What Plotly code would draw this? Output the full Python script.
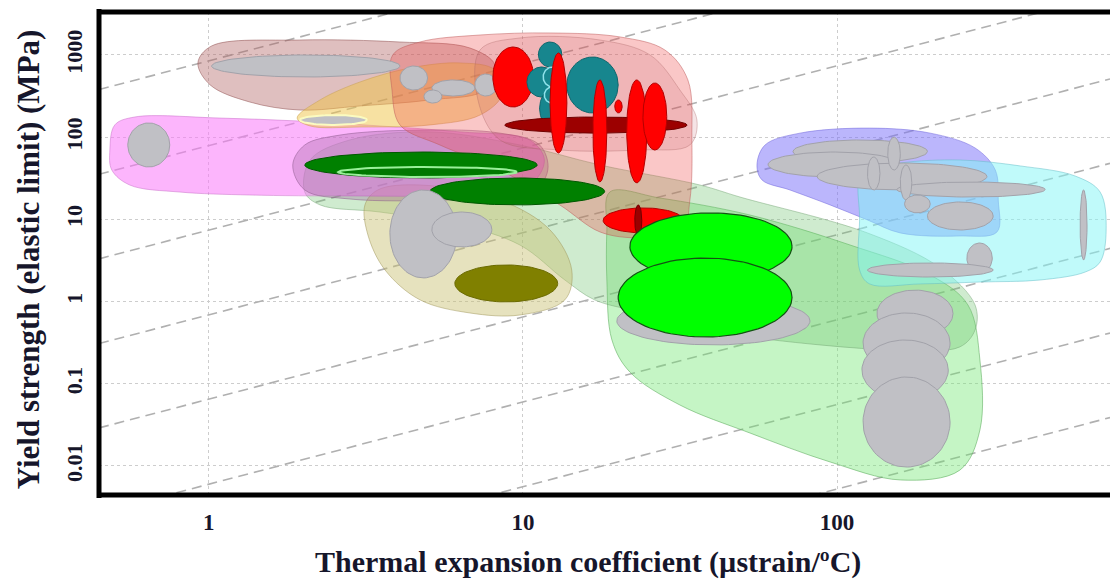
import numpy as np
import plotly.graph_objects as go

# ---------------- data ----------------
tick_x = [1, 10, 100]
tick_x_text = ["1", "10", "100"]
tick_y = [0.01, 0.1, 1, 10, 100, 1000]
tick_y_text = ["0.01", "0.1", "1", "10", "100", "1000"]

# guide lines: yield strength / expansion coefficient = constant (MPa per ustrain/C)
guide_ratio = [9100, 850, 79, 7.4, 0.69, 0.065, 0.006, 0.00056, 0.0000525]

# material bubbles: property ranges
bub_kind = ["gray", "gray", "gray_yl", "gray", "gray", "gray", "gray",
            "red", "teal", "teal", "teal", "teal", "teal_lt", "teal_lt",
            "darkred", "red", "red", "red", "red", "red", "red", "darkred",
            "dkgreen", "dkgreen_in", "dkgreen", "gray", "gray", "olive",
            "gray", "bgreen", "bgreen",
            "gray", "gray", "gray", "gray",
            "gray", "gray", "gray", "gray", "gray", "gray", "gray", "gray", "gray",
            "gray", "gray", "gray"]
bub_x_lo = [1.02, 0.552, 1.95, 4.06, 5.13, 7.03, 4.84,
            8.02, 13.8, 11.2, 10.3, 11.3, 11.6, 11.7,
            8.76, 12.2, 19.6, 16.7, 21.4, 24.1, 18.0, 22.7,
            2.02, 2.58, 5.06, 3.77, 5.13, 6.07,
            19.9, 21.9, 20.1,
            134, 121, 120, 121,
            72.4, 60.3, 86.4, 155, 194, 145, 159, 125, 164,
            594, 259, 125]
bub_x_hi = [4.06, 0.751, 3.19, 4.97, 7.03, 8.26, 5.52,
            10.8, 20.1, 13.3, 12.8, 13.4, 13.3, 13.1,
            33.3, 13.8, 20.7, 18.5, 24.8, 28.7, 32.4, 23.9,
            11.1, 9.57, 18.2, 6.16, 7.96, 12.9,
            82.0, 71.9, 71.9,
            234, 229, 226, 229,
            194, 159, 300, 460, 314, 159, 173, 137, 198,
            625, 312, 314]
bub_y_lo = [540, 43.4, 141, 375, 317, 317, 260,
            233, 197, 714, 308, 133, 408, 260,
            112, 64.2, 197, 28.5, 27.8, 69.9, 6.84, 6.28,
            31.9, 32.8, 15.0, 1.94, 4.62, 0.99,
            0.297, 1.83, 0.371,
            0.371, 0.135, 0.0635, 0.0097,
            48.5, 32.8, 22.8, 18.7, 7.43, 39.9, 17.2, 22.8, 12.0,
            3.21, 2.23, 1.99]
bub_y_hi = [1000, 149, 186, 735, 497, 587, 375,
            1251, 945, 1439, 714, 375, 714, 408,
            176, 1058, 284, 497, 497, 456, 13.8, 15.0,
            66.0, 43.4, 31.9, 22.8, 12.3, 2.79,
            1.14, 12.0, 3.39,
            1.38, 0.727, 0.341, 0.121,
            92.5, 66.0, 48.5, 28.5, 16.3, 100, 45.9, 57.4, 19.8,
            22.8, 5.16, 2.95]

# material-family envelopes (outline points, data units)
env_kind = ["foam", "band", "khaki", "magenta", "purple", "brown",
            "yellow", "red", "redd", "lavender", "cyan"]
env_x = [
    [18.9, 27.3, 52.8, 110, 198, 261, 285, 285, 246, 159, 95.0, 52.8, 31.6, 21.9, 19.2, 18.5, 18.5],
    [2.02, 2.10, 2.81, 5.06, 9.78, 17.6, 36.6, 49.1, 125, 213, 275, 275, 246, 159, 88.3, 42.4, 23.6, 16.9, 13.6, 9.78, 6.30, 3.50, 2.26],
    [3.14, 3.45, 4.70, 8.45, 12.2, 14.3, 13.6, 9.78, 6.78, 4.70, 3.64, 3.21],
    [0.484, 0.502, 0.581, 1.08, 1.95, 3.50, 6.30, 10.5, 11.7, 10.5, 5.86, 2.81, 1.35, 0.809, 0.560, 0.491],
    [1.85, 2.02, 2.61, 4.70, 8.45, 11.3, 12.0, 10.5, 5.86, 2.81, 2.02],
    [0.923, 1.02, 1.95, 4.06, 6.78, 8.14, 7.57, 5.06, 3.03, 1.95, 1.35, 1.01],
    [1.91, 2.26, 3.03, 4.37, 6.30, 8.14, 8.57, 7.30, 5.06, 3.03, 2.10],
    [3.85, 4.70, 7.30, 12.2, 20.4, 28.3, 33.5, 34.5, 34.0, 32.0, 23.6, 17.6, 13.1, 8.45, 5.44, 4.06, 3.83],
    [7.30, 9.78, 17.6, 25.4, 31.6, 35.8, 34.0, 23.6, 13.1, 8.45, 7.19],
    [55.6, 59.0, 76.2, 127, 198, 275, 319, 326, 323, 246, 159, 125, 95.0, 70.8, 57.7],
    [120, 159, 246, 383, 573, 688, 719, 688, 617, 443, 285, 184, 127, 118, 118],
]
env_y = [
    [21.5, 18.2, 11.3, 4.88, 2.11, 0.91, 0.195, 0.0274, 0.0089, 0.00676, 0.0112, 0.0252, 0.0552, 0.139, 0.341, 1.83, 7.43],
    [21.5, 52.8, 92.5, 116, 80.4, 45.9, 26.2, 18.7, 6.84, 2.57, 0.91, 0.451, 0.281, 0.258, 0.297, 0.426, 0.747, 1.05, 1.83, 4.88, 8.55, 12.3, 15.0],
    [15.0, 22.8, 26.2, 17.2, 7.43, 2.42, 1.05, 0.687, 0.727, 1.05, 2.42, 6.46],
    [69.9, 141, 176, 171, 157, 137, 116, 92.5, 52.8, 26.2, 19.8, 19.3, 19.8, 21.5, 26.2, 39.9],
    [45.9, 80.4, 106, 122, 112, 80.4, 39.9, 19.8, 17.2, 17.7, 22.8],
    [800, 1286, 1521, 1439, 1216, 755, 375, 284, 240, 214, 268, 432],
    [171, 284, 470, 695, 800, 657, 326, 186, 141, 133, 137],
    [1000, 1439, 1750, 1853, 1656, 1151, 497, 92.5, 17.2, 6.84, 5.94, 7.03, 15.0, 39.9, 80.4, 141, 375],
    [1151, 1611, 1521, 1000, 375, 162, 80.4, 69.9, 69.9, 92.5, 284],
    [45.9, 80.4, 112, 129, 112, 74.0, 39.9, 17.2, 7.03, 6.28, 6.84, 9.84, 15.0, 22.8, 30.2],
    [37.8, 48.5, 52.8, 44.7, 33.7, 21.5, 7.43, 3.03, 2.29, 1.83, 1.73, 1.64, 1.64, 2.42, 9.84],
]

# ---------------- styles ----------------
bub_style = {
    "gray": ("#c0c0c5", "#a2a2aa", 1),
    "gray_yl": ("#c0c0c5", "#fbfbc0", 2),
    "red": ("#ff0000", "#b40000", 1),
    "darkred": ("#9c0000", "#700000", 1),
    "teal": ("#17868e", "#0d666c", 1),
    "teal_lt": ("#17868e", "#8fe2ea", 1.5),
    "dkgreen": ("#008000", "#005800", 1),
    "dkgreen_in": ("#007800", "#9af09a", 2),
    "olive": ("#808000", "#6a6a00", 1),
    "bgreen": ("#00ff00", "#145214", 1.2),
}
env_style = {
    "foam": ("rgba(110,230,110,0.40)", "rgba(90,170,90,0.55)"),
    "band": ("rgba(110,195,110,0.33)", "rgba(110,160,110,0.45)"),
    "khaki": ("rgba(200,190,110,0.45)", "rgba(160,150,90,0.5)"),
    "magenta": ("rgba(250,120,250,0.55)", "rgba(200,110,200,0.5)"),
    "purple": ("rgba(150,90,150,0.30)", "rgba(140,90,140,0.5)"),
    "brown": ("rgba(175,95,95,0.40)", "rgba(150,90,90,0.55)"),
    "yellow": ("rgba(240,195,70,0.50)", "rgba(200,160,80,0.5)"),
    "red": ("rgba(240,70,70,0.30)", "rgba(190,90,90,0.5)"),
    "redd": ("rgba(190,90,100,0.16)", "rgba(170,100,100,0.35)"),
    "lavender": ("rgba(120,110,250,0.50)", "rgba(110,100,220,0.5)"),
    "cyan": ("rgba(130,245,245,0.50)", "rgba(100,190,200,0.5)"),
}

fig = go.Figure()

X_RANGE = [np.log10(0.447), 2.869]
Y_RANGE = [-2.353, 3.523]

# guide lines
gx = np.array([10 ** X_RANGE[0], 10 ** X_RANGE[1]])
for c in guide_ratio:
    fig.add_trace(go.Scatter(x=gx, y=c * gx, mode="lines",
                             line=dict(color="#b0b0b0", width=1.6, dash="10px,6px"),
                             hoverinfo="skip", showlegend=False))

# envelopes
for k, xs, ys in zip(env_kind, env_x, env_y):
    fc, lc = env_style[k]
    fig.add_trace(go.Scatter(x=list(xs) + [xs[0]], y=list(ys) + [ys[0]], mode="lines",
                             line=dict(color=lc, width=1, shape="spline", smoothing=1.0),
                             fill="toself", fillcolor=fc, hoverinfo="skip", showlegend=False))

# bubbles
t = np.linspace(0, 2 * np.pi, 90)
for k, x0, x1, y0, y1 in zip(bub_kind, bub_x_lo, bub_x_hi, bub_y_lo, bub_y_hi):
    cx = (np.log10(x0) + np.log10(x1)) / 2
    rx = (np.log10(x1) - np.log10(x0)) / 2
    cy = (np.log10(y0) + np.log10(y1)) / 2
    ry = (np.log10(y1) - np.log10(y0)) / 2
    fc, lc, lw = bub_style[k]
    fig.add_trace(go.Scatter(x=10 ** (cx + rx * np.cos(t)), y=10 ** (cy + ry * np.sin(t)),
                             mode="lines", line=dict(color=lc, width=lw),
                             fill="toself", fillcolor=fc, hoverinfo="skip", showlegend=False))

TXT = "#16162b"
SERIF = "Liberation Serif, Times New Roman, serif"

fig.update_layout(
    width=1110, height=581,
    margin=dict(l=99, r=0, t=12, b=86),
    paper_bgcolor="white", plot_bgcolor="white",
    showlegend=False,
    xaxis=dict(type="log", range=X_RANGE, tickvals=tick_x,
               ticktext=["<b>%s</b>" % s for s in tick_x_text],
               tickfont=dict(family=SERIF, size=23, color=TXT),
               showgrid=True, gridcolor="#cdcdcd", griddash="dot", gridwidth=1,
               zeroline=False, showline=False, ticks="", ticklabelstandoff=11),
    yaxis=dict(type="log", range=Y_RANGE, tickvals=tick_y,
               ticktext=["<b>%s</b>" % s for s in tick_y_text],
               tickfont=dict(family=SERIF, size=22, color=TXT), tickangle=-90,
               showgrid=True, gridcolor="#cdcdcd", griddash="dot", gridwidth=1,
               zeroline=False, showline=False, ticks="", ticklabelstandoff=12),
    annotations=[
        dict(text="<b>Thermal expansion coefficient (µstrain/ºC)</b>", xref="paper", yref="paper",
             x=0.484, y=-0.139, xanchor="center", yanchor="middle", showarrow=False,
             font=dict(family=SERIF, size=30, color=TXT)),
        dict(text="<b>Yield strength (elastic limit) (MPa)</b>", xref="paper", yref="paper",
             x=-0.0702, y=0.488, xanchor="center", yanchor="middle", showarrow=False, textangle=-90,
             font=dict(family=SERIF, size=31, color=TXT)),
    ],
    shapes=[
        dict(type="line", xref="paper", yref="paper", x0=0, x1=0, y0=-0.006, y1=1.006,
             line=dict(color="black", width=5)),
        dict(type="line", xref="paper", yref="paper", x0=0, x1=1.01, y0=1, y1=1,
             line=dict(color="black", width=5)),
        dict(type="line", xref="paper", yref="paper", x0=0, x1=1.01, y0=0, y1=0,
             line=dict(color="black", width=5)),
    ],
)

fig.write_html("out.html", config={"displayModeBar": False},
               post_script="document.body.style.margin='0px';document.body.style.overflow='hidden';")
